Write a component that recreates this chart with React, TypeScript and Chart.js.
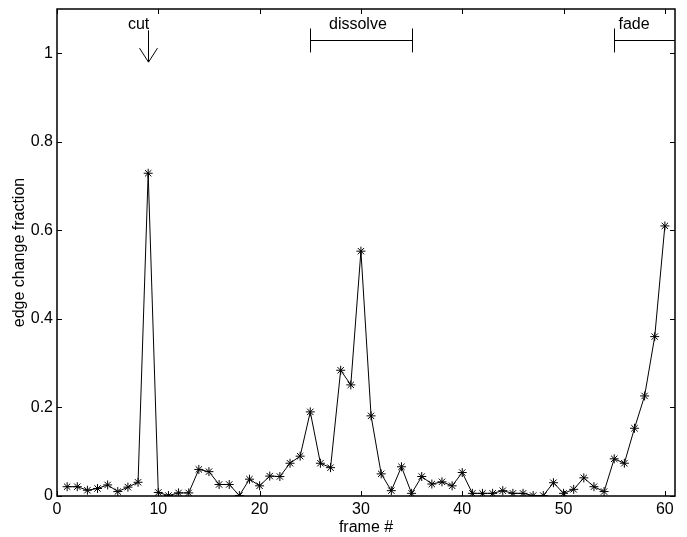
import React, { useEffect, useRef } from "react";
import { Chart, registerables } from "chart.js";

Chart.register(...registerables);

const frames = [
  1, 2, 3, 4, 5, 6, 7, 8, 9, 10, 11, 12, 13, 14, 15, 16, 17, 18, 19, 20,
  21, 22, 23, 24, 25, 26, 27, 28, 29, 30, 31, 32, 33, 34, 35, 36, 37, 38, 39, 40,
  41, 42, 43, 44, 45, 46, 47, 48, 49, 50, 51, 52, 53, 54, 55, 56, 57, 58, 59, 60,
];
const edgeChange = [
  0.021, 0.021, 0.013, 0.017, 0.025, 0.01, 0.02, 0.031, 0.729, 0.008,
  0.001, 0.007, 0.007, 0.06, 0.055, 0.026, 0.026, 0.001, 0.038, 0.023,
  0.045, 0.044, 0.074, 0.09, 0.19, 0.074, 0.064, 0.284, 0.251, 0.553,
  0.181, 0.05, 0.012, 0.066, 0.006, 0.044, 0.027, 0.032, 0.023, 0.053,
  0.006, 0.006, 0.006, 0.012, 0.006, 0.006, 0.001, 0.001, 0.03, 0.006,
  0.015, 0.041, 0.021, 0.01, 0.084, 0.074, 0.153, 0.226, 0.36, 0.61,
];
const xTicks = [0, 10, 20, 30, 40, 50, 60];
const yTicks = [0, 0.2, 0.4, 0.6, 0.8, 1];
const xRange = [0, 61];
const yRange = [0, 1.1];

// annotations (data coordinates)
const cutFrame = 9;
const cutArrowY = [1.052, 0.98];
const dissolveRange = [25, 35];
const fadeRange = [55, 61];
const bracketY = 1.029;
const bracketHalf = 0.027;
const labelY = 1.065;

const FONT = "Liberation Sans, Arial, Helvetica, sans-serif";

const framePlugin = {
  id: "frameTicks",
  afterDraw(chart: any) {
    const { ctx, chartArea: a, scales } = chart;
    const x = scales.x;
    const y = scales.y;
    ctx.save();
    ctx.strokeStyle = "#000";
    ctx.lineWidth = 1.5;
    ctx.beginPath();
    ctx.rect(a.left, a.top, a.right - a.left, a.bottom - a.top);
    ctx.stroke();
    ctx.lineWidth = 1;
    const tl = 5;
    ctx.beginPath();
    xTicks.forEach((v) => {
      const px = Math.round(x.getPixelForValue(v)) + 0.5;
      ctx.moveTo(px, a.bottom);
      ctx.lineTo(px, a.bottom - tl);
      ctx.moveTo(px, a.top);
      ctx.lineTo(px, a.top + tl);
    });
    yTicks.forEach((v) => {
      const py = Math.round(y.getPixelForValue(v)) + 0.5;
      ctx.moveTo(a.left, py);
      ctx.lineTo(a.left + tl, py);
      ctx.moveTo(a.right, py);
      ctx.lineTo(a.right - tl, py);
    });
    ctx.stroke();

    // annotations
    ctx.font = `16px ${FONT}`;
    ctx.fillStyle = "#000";
    ctx.textBaseline = "middle";
    ctx.beginPath();
    const cx = Math.round(x.getPixelForValue(cutFrame)) + 0.5;
    const cy0 = y.getPixelForValue(cutArrowY[0]);
    const cy1 = y.getPixelForValue(cutArrowY[1]);
    ctx.moveTo(cx, cy0);
    ctx.lineTo(cx, cy1);
    ctx.moveTo(cx - 9, cy1 - 14);
    ctx.lineTo(cx, cy1);
    ctx.lineTo(cx + 9, cy1 - 14);

    const by = Math.round(y.getPixelForValue(bracketY)) + 0.5;
    const bt = y.getPixelForValue(bracketY + bracketHalf);
    const bb = y.getPixelForValue(bracketY - bracketHalf);
    const d0 = Math.round(x.getPixelForValue(dissolveRange[0])) + 0.5;
    const d1 = Math.round(x.getPixelForValue(dissolveRange[1])) + 0.5;
    ctx.moveTo(d0, by);
    ctx.lineTo(d1, by);
    ctx.moveTo(d0, bt);
    ctx.lineTo(d0, bb);
    ctx.moveTo(d1, bt);
    ctx.lineTo(d1, bb);
    const f0 = Math.round(x.getPixelForValue(fadeRange[0])) + 0.5;
    const f1 = x.getPixelForValue(fadeRange[1]);
    ctx.moveTo(f0, by);
    ctx.lineTo(f1, by);
    ctx.moveTo(f0, bt);
    ctx.lineTo(f0, bb);
    ctx.stroke();

    const ly = y.getPixelForValue(labelY);
    ctx.textAlign = "center";
    ctx.fillText("cut", x.getPixelForValue(cutFrame - 0.95), ly);
    ctx.fillText("dissolve", x.getPixelForValue((dissolveRange[0] + dissolveRange[1]) / 2 - 0.3), ly);
    ctx.textAlign = "left";
    ctx.fillText("fade", f0 + 4, ly);
    ctx.restore();
  },
};

export default function App() {
  const ref = useRef<HTMLCanvasElement>(null);
  useEffect(() => {
    if (!ref.current) return;
    const chart = new Chart(ref.current, {
      type: "line",
      data: {
        datasets: [
          {
            data: frames.map((f, i) => ({ x: f, y: edgeChange[i] })),
            borderColor: "#000",
            backgroundColor: "#000",
            borderWidth: 1,
            pointStyle: "star",
            pointRadius: 4.5,
            pointBorderWidth: 1,
            pointBorderColor: "#000",
            tension: 0,
          },
        ],
      },
      options: {
        animation: false,
        responsive: false,
        maintainAspectRatio: false,
        layout: { padding: { top: 9, right: 12, left: 0, bottom: 0 } },
        plugins: { legend: { display: false }, tooltip: { enabled: false } },
        scales: {
          x: {
            type: "linear",
            min: xRange[0],
            max: xRange[1],
            afterBuildTicks: (s: any) => {
              s.ticks = xTicks.map((v) => ({ value: v }));
            },
            afterFit: (s: any) => {
              s.height = 41;
              s.paddingLeft = 0;
              s.paddingRight = 0;
            },
            grid: { display: false, drawTicks: false },
            border: { display: false },
            ticks: { color: "#000", font: { family: FONT, size: 16 }, padding: 4, maxRotation: 0 },
            title: { display: true, text: "frame #", color: "#000", font: { family: FONT, size: 16 }, padding: { top: 0, bottom: 0 } },
          },
          y: {
            type: "linear",
            min: yRange[0],
            max: yRange[1],
            afterBuildTicks: (s: any) => {
              s.ticks = yTicks.map((v) => ({ value: v }));
            },
            afterFit: (s: any) => {
              s.width = 57;
              s.paddingTop = 0;
              s.paddingBottom = 0;
            },
            grid: { display: false, drawTicks: false },
            border: { display: false },
            ticks: {
              color: "#000",
              font: { family: FONT, size: 16 },
              padding: 4,
              callback: (v: any) => String(Math.round(Number(v) * 10) / 10),
            },
            title: { display: true, text: "edge change fraction", color: "#000", font: { family: FONT, size: 16 }, padding: { top: 10, bottom: 0 } },
          },
        },
      },
      plugins: [framePlugin],
    });
    return () => chart.destroy();
  }, []);
  return (
    <div style={{ position: "absolute", left: 0, top: 0, width: 687, height: 537, background: "#fff" }}>
      <canvas ref={ref} width={687} height={537} style={{ width: 687, height: 537 }} />
    </div>
  );
}
